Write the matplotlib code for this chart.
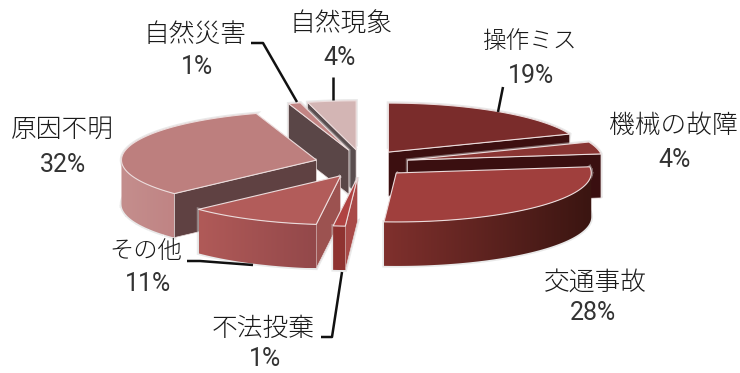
import numpy as np
import matplotlib
matplotlib.use("Agg")
import matplotlib.pyplot as plt
from matplotlib.patches import Polygon

plt.rcParams['font.family'] = ['Noto Sans CJK JP', 'DejaVu Sans']

# cause of incident, percent share, clockwise from 12 o'clock
causes = ["操作ミス", "機械の故障", "交通事故", "不法投棄", "その他", "原因不明", "自然災害", "自然現象"]
shares = [19, 4, 28, 1, 11, 32, 1, 4]

top_colors = ["#7a2c2b", "#8a3533", "#a03f3d", "#b04342", "#b25c5a", "#bd7f7e", "#c28584", "#d3b5b4"]
cut_colors = ["#3c0f10", "#3a0f10", "#3c1512", "#a84a48", "#9c5250", "#5f4142", "#5a4647", "#5a4e4f"]
rim_left = ["#7a2c2b", "#7a2c2b", "#7f302d", "#8f3331", "#b05a58", "#c48e8d", "#c28584", "#d3b5b4"]
rim_right = ["#3c1512", "#3c1512", "#3b1511", "#8f3331", "#93484a", "#c08484", "#c28584", "#d3b5b4"]
draw_order = [7, 6, 0, 1, 5, 4, 2, 3]

cx, cy = 362, 163.5
rx, ry = 195, 49
depth = 44
explode_x, explode_y = 47, 13.8

fig = plt.figure(figsize=(7.4, 3.73), dpi=100)
ax = fig.add_axes([0, 0, 1, 1])


def rim_points(x0, y0, a, b, n=60):
    t = np.radians(np.linspace(a, b, n))
    return np.column_stack([x0 + rx * np.sin(t), y0 - ry * np.cos(t)])


def gradient_face(pts, left, right, z):
    poly = Polygon(pts, closed=True, fc="none", ec="none", zorder=z)
    ax.add_patch(poly)
    c0 = np.array(matplotlib.colors.to_rgb(left))
    c1 = np.array(matplotlib.colors.to_rgb(right))
    grad = np.linspace(0, 1, 64)[None, :, None] * (c1 - c0) + c0
    im = ax.imshow(grad, extent=[pts[:, 0].min(), pts[:, 0].max(), pts[:, 1].max(), pts[:, 1].min()],
                   aspect="auto", zorder=z, interpolation="bilinear")
    im.set_clip_path(poly)


edges = np.concatenate([[0], np.cumsum(shares)]) * 3.6
z = 1
for i in draw_order:
    a, b = edges[i], edges[i + 1]
    mid = np.radians((a + b) / 2)
    x0 = cx + explode_x * np.sin(mid)
    y0 = cy - explode_y * np.cos(mid)
    top = np.vstack([[x0, y0], rim_points(x0, y0, a, b)])

    # soft grey halo behind the whole solid
    solid = np.vstack([top, top + [0, depth]])
    from_hull = solid[np.argsort(np.arctan2(solid[:, 1] - solid[:, 1].mean(), solid[:, 0] - solid[:, 0].mean()))]
    ax.add_patch(Polygon(from_hull, closed=True, fc="#cfcfcf", ec="#cfcfcf", lw=2.5, alpha=0.45, zorder=z))
    z += 1

    # cut faces that look toward the viewer
    for ang, show in ((a, np.sin(np.radians(a)) < -1e-6), (b, np.sin(np.radians(b)) > 1e-6)):
        if show:
            p = rim_points(x0, y0, ang, ang, 1)[0]
            face = [[x0, y0], p, p + [0, depth], [x0, y0 + depth]]
            ax.add_patch(Polygon(face, closed=True, fc=cut_colors[i], ec="#e9dcdc", lw=0.5, zorder=z))
            z += 1

    # curved outer wall, only the part on the near half
    lo, hi = max(a, 90), min(b, 270)
    if hi > lo:
        arc = rim_points(x0, y0, lo, hi)
        wall = np.vstack([arc, (arc + [0, depth])[::-1]])
        gradient_face(wall, rim_left[i], rim_right[i], z)
        z += 1

    ax.add_patch(Polygon(top, closed=True, fc=top_colors[i], ec="#ecdcdc", lw=0.8, zorder=z))
    z += 1

# leader lines
leaders = [
    ([251, 263, 297], [43, 43, 102]),
    ([333, 333], [77, 100]),
    ([503, 498], [87, 112]),
    ([321, 332, 342], [337, 337, 272]),
    ([187, 200, 253], [261, 261, 265]),
]
for xs, ys in leaders:
    ax.plot(xs, ys, color="#111111", lw=1.8, solid_capstyle="butt", zorder=z)

# name centre, percent centre, name size
labels = [
    (530, 42, 531, 76, 17, 0),
    (673, 126, 675, 160, 18.5, 1),
    (595, 282, 593, 313, 18.5, 2),
    (263, 329, 265, 359, 18.5, 3),
    (146, 252, 148, 284, 17.5, 4),
    (62, 130, 63, 165, 18.5, 5),
    (195, 35, 197, 67, 18.5, 6),
    (341, 24, 340, 58, 18.5, 7),
]
for nx, ny, px, py, size, i in labels:
    ax.text(nx, ny, causes[i], fontsize=size, fontweight="light", color="#1a1a1a",
            ha="center", va="center", zorder=z)
    ax.text(px, py, f"{shares[i]}%", fontsize=18, family=["Roboto", "DejaVu Sans"],
            color="#333333", ha="center", va="center", zorder=z)

ax.set_xlim(0, 740)
ax.set_ylim(373, 0)
ax.axis("off")
fig.savefig("out.png", dpi=100, facecolor="white")
